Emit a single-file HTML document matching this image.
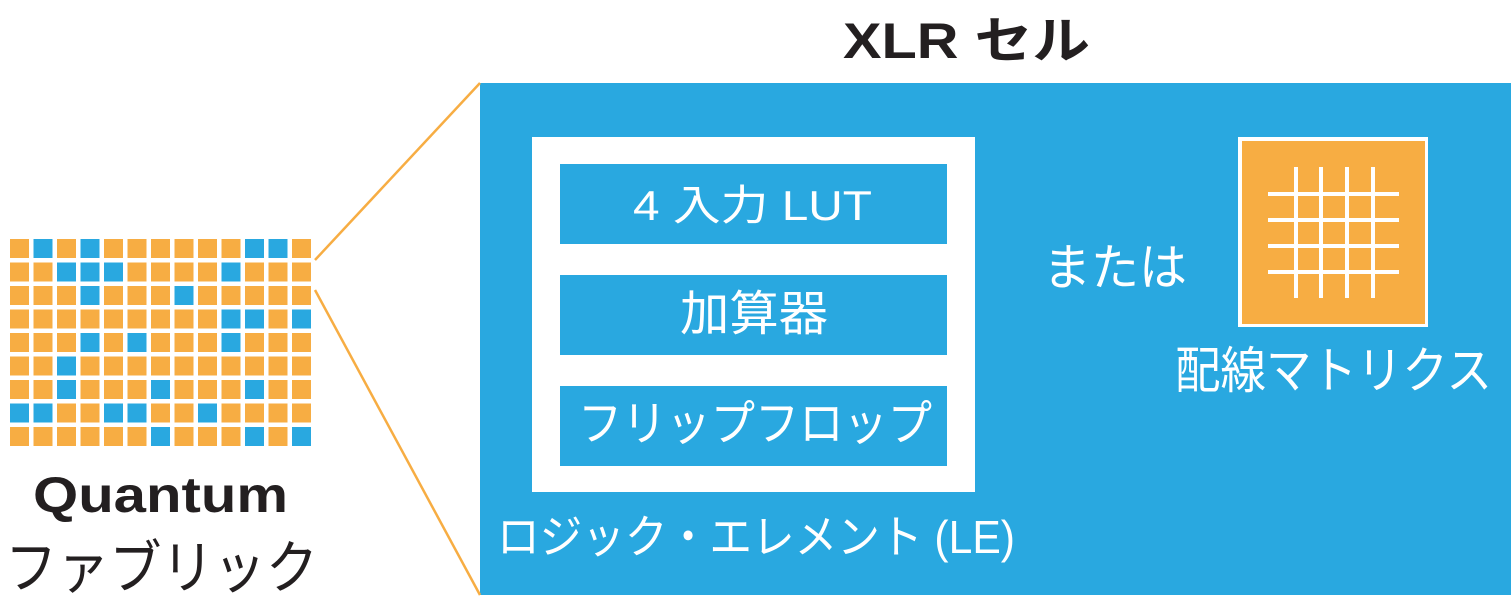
<!DOCTYPE html>
<html><head><meta charset="utf-8"><style>
html,body{margin:0;padding:0;background:#fff;}
svg{display:block;}
text{font-family:"Liberation Sans","Noto Sans CJK JP",sans-serif;}
</style></head><body>
<svg width="1511" height="610" viewBox="0 0 1511 610" xmlns="http://www.w3.org/2000/svg">
<rect x="480" y="83" width="1031" height="512" fill="#29a8e0"/>
<line x1="315" y1="260" x2="480" y2="83" stroke="#f7ad43" stroke-width="2.5"/>
<line x1="315" y1="290" x2="480" y2="595" stroke="#f7ad43" stroke-width="2.5"/>
<g id="grid"></g>
<rect x="532" y="137" width="443" height="355" fill="#fff"/>
<rect x="560" y="164" width="387" height="80" fill="#29a8e0"/>
<rect x="560" y="275" width="387" height="80" fill="#29a8e0"/>
<rect x="560" y="386" width="387" height="80" fill="#29a8e0"/>
<rect x="1238" y="137" width="190" height="190" fill="#fff"/>
<rect x="1242" y="141" width="183" height="183" fill="#f7ad43"/>
<g fill="#fff">
<rect x="1294" y="167" width="4" height="131"/><rect x="1319" y="167" width="4" height="131"/>
<rect x="1345" y="167" width="4" height="131"/><rect x="1371" y="167" width="4" height="131"/>
<rect x="1268" y="192" width="131" height="4"/><rect x="1268" y="218" width="131" height="4"/>
<rect x="1268" y="244" width="131" height="4"/><rect x="1268" y="270" width="131" height="4"/>
</g>
<text x="843" y="58" font-size="50" font-weight="bold" fill="#231f20" textLength="247" lengthAdjust="spacingAndGlyphs">XLR セル</text>
<text x="33" y="512" font-size="50" font-weight="bold" fill="#231f20" textLength="255" lengthAdjust="spacingAndGlyphs">Quantum</text>
<text x="5" y="588" font-size="58" fill="#231f20" textLength="313" lengthAdjust="spacingAndGlyphs">ファブリック</text>
<g fill="#fff">
<text x="633" y="220" font-size="42" textLength="239" lengthAdjust="spacingAndGlyphs">4 入力 LUT</text>
<text x="680" y="330" font-size="48" textLength="148" lengthAdjust="spacingAndGlyphs">加算器</text>
<text x="578" y="440" font-size="48" textLength="354" lengthAdjust="spacingAndGlyphs">フリップフロップ</text>
<text x="1043" y="285" font-size="50" textLength="144" lengthAdjust="spacingAndGlyphs">または</text>
<text x="1175" y="388" font-size="50" textLength="317" lengthAdjust="spacingAndGlyphs">配線マトリクス</text>
<text x="497" y="553" font-size="46" textLength="518" lengthAdjust="spacingAndGlyphs">ロジック・エレメント (LE)</text>
</g>
<g>
<script>
</script>
</g>
<g id="cells">
</g>
<!-- grid cells -->
<g>
<!--rows-->
</g>
<g id="g2">
</g>
<g>
<rect x="10" y="239" width="19" height="19" fill="#f7ad43"/><rect x="33.5" y="239" width="19" height="19" fill="#29a8e0"/><rect x="57" y="239" width="19" height="19" fill="#f7ad43"/><rect x="80.5" y="239" width="19" height="19" fill="#29a8e0"/><rect x="104" y="239" width="19" height="19" fill="#f7ad43"/><rect x="127.5" y="239" width="19" height="19" fill="#f7ad43"/><rect x="151" y="239" width="19" height="19" fill="#f7ad43"/><rect x="174.5" y="239" width="19" height="19" fill="#f7ad43"/><rect x="198" y="239" width="19" height="19" fill="#f7ad43"/><rect x="221.5" y="239" width="19" height="19" fill="#f7ad43"/><rect x="245" y="239" width="19" height="19" fill="#29a8e0"/><rect x="268.5" y="239" width="19" height="19" fill="#29a8e0"/><rect x="292" y="239" width="19" height="19" fill="#f7ad43"/>
<rect x="10" y="262.5" width="19" height="19" fill="#f7ad43"/><rect x="33.5" y="262.5" width="19" height="19" fill="#f7ad43"/><rect x="57" y="262.5" width="19" height="19" fill="#29a8e0"/><rect x="80.5" y="262.5" width="19" height="19" fill="#29a8e0"/><rect x="104" y="262.5" width="19" height="19" fill="#29a8e0"/><rect x="127.5" y="262.5" width="19" height="19" fill="#f7ad43"/><rect x="151" y="262.5" width="19" height="19" fill="#f7ad43"/><rect x="174.5" y="262.5" width="19" height="19" fill="#f7ad43"/><rect x="198" y="262.5" width="19" height="19" fill="#f7ad43"/><rect x="221.5" y="262.5" width="19" height="19" fill="#29a8e0"/><rect x="245" y="262.5" width="19" height="19" fill="#f7ad43"/><rect x="268.5" y="262.5" width="19" height="19" fill="#f7ad43"/><rect x="292" y="262.5" width="19" height="19" fill="#f7ad43"/>
<rect x="10" y="286" width="19" height="19" fill="#f7ad43"/><rect x="33.5" y="286" width="19" height="19" fill="#f7ad43"/><rect x="57" y="286" width="19" height="19" fill="#f7ad43"/><rect x="80.5" y="286" width="19" height="19" fill="#29a8e0"/><rect x="104" y="286" width="19" height="19" fill="#f7ad43"/><rect x="127.5" y="286" width="19" height="19" fill="#f7ad43"/><rect x="151" y="286" width="19" height="19" fill="#f7ad43"/><rect x="174.5" y="286" width="19" height="19" fill="#29a8e0"/><rect x="198" y="286" width="19" height="19" fill="#f7ad43"/><rect x="221.5" y="286" width="19" height="19" fill="#f7ad43"/><rect x="245" y="286" width="19" height="19" fill="#f7ad43"/><rect x="268.5" y="286" width="19" height="19" fill="#f7ad43"/><rect x="292" y="286" width="19" height="19" fill="#f7ad43"/>
<rect x="10" y="309.5" width="19" height="19" fill="#f7ad43"/><rect x="33.5" y="309.5" width="19" height="19" fill="#f7ad43"/><rect x="57" y="309.5" width="19" height="19" fill="#f7ad43"/><rect x="80.5" y="309.5" width="19" height="19" fill="#f7ad43"/><rect x="104" y="309.5" width="19" height="19" fill="#f7ad43"/><rect x="127.5" y="309.5" width="19" height="19" fill="#f7ad43"/><rect x="151" y="309.5" width="19" height="19" fill="#f7ad43"/><rect x="174.5" y="309.5" width="19" height="19" fill="#f7ad43"/><rect x="198" y="309.5" width="19" height="19" fill="#f7ad43"/><rect x="221.5" y="309.5" width="19" height="19" fill="#29a8e0"/><rect x="245" y="309.5" width="19" height="19" fill="#29a8e0"/><rect x="268.5" y="309.5" width="19" height="19" fill="#f7ad43"/><rect x="292" y="309.5" width="19" height="19" fill="#29a8e0"/>
<rect x="10" y="333" width="19" height="19" fill="#f7ad43"/><rect x="33.5" y="333" width="19" height="19" fill="#f7ad43"/><rect x="57" y="333" width="19" height="19" fill="#f7ad43"/><rect x="80.5" y="333" width="19" height="19" fill="#29a8e0"/><rect x="104" y="333" width="19" height="19" fill="#f7ad43"/><rect x="127.5" y="333" width="19" height="19" fill="#29a8e0"/><rect x="151" y="333" width="19" height="19" fill="#f7ad43"/><rect x="174.5" y="333" width="19" height="19" fill="#f7ad43"/><rect x="198" y="333" width="19" height="19" fill="#f7ad43"/><rect x="221.5" y="333" width="19" height="19" fill="#29a8e0"/><rect x="245" y="333" width="19" height="19" fill="#f7ad43"/><rect x="268.5" y="333" width="19" height="19" fill="#f7ad43"/><rect x="292" y="333" width="19" height="19" fill="#f7ad43"/>
<rect x="10" y="356.5" width="19" height="19" fill="#f7ad43"/><rect x="33.5" y="356.5" width="19" height="19" fill="#f7ad43"/><rect x="57" y="356.5" width="19" height="19" fill="#29a8e0"/><rect x="80.5" y="356.5" width="19" height="19" fill="#f7ad43"/><rect x="104" y="356.5" width="19" height="19" fill="#f7ad43"/><rect x="127.5" y="356.5" width="19" height="19" fill="#f7ad43"/><rect x="151" y="356.5" width="19" height="19" fill="#f7ad43"/><rect x="174.5" y="356.5" width="19" height="19" fill="#f7ad43"/><rect x="198" y="356.5" width="19" height="19" fill="#f7ad43"/><rect x="221.5" y="356.5" width="19" height="19" fill="#f7ad43"/><rect x="245" y="356.5" width="19" height="19" fill="#f7ad43"/><rect x="268.5" y="356.5" width="19" height="19" fill="#f7ad43"/><rect x="292" y="356.5" width="19" height="19" fill="#f7ad43"/>
<rect x="10" y="380" width="19" height="19" fill="#f7ad43"/><rect x="33.5" y="380" width="19" height="19" fill="#f7ad43"/><rect x="57" y="380" width="19" height="19" fill="#29a8e0"/><rect x="80.5" y="380" width="19" height="19" fill="#f7ad43"/><rect x="104" y="380" width="19" height="19" fill="#f7ad43"/><rect x="127.5" y="380" width="19" height="19" fill="#f7ad43"/><rect x="151" y="380" width="19" height="19" fill="#29a8e0"/><rect x="174.5" y="380" width="19" height="19" fill="#f7ad43"/><rect x="198" y="380" width="19" height="19" fill="#f7ad43"/><rect x="221.5" y="380" width="19" height="19" fill="#f7ad43"/><rect x="245" y="380" width="19" height="19" fill="#29a8e0"/><rect x="268.5" y="380" width="19" height="19" fill="#f7ad43"/><rect x="292" y="380" width="19" height="19" fill="#f7ad43"/>
<rect x="10" y="403.5" width="19" height="19" fill="#29a8e0"/><rect x="33.5" y="403.5" width="19" height="19" fill="#29a8e0"/><rect x="57" y="403.5" width="19" height="19" fill="#f7ad43"/><rect x="80.5" y="403.5" width="19" height="19" fill="#f7ad43"/><rect x="104" y="403.5" width="19" height="19" fill="#29a8e0"/><rect x="127.5" y="403.5" width="19" height="19" fill="#29a8e0"/><rect x="151" y="403.5" width="19" height="19" fill="#f7ad43"/><rect x="174.5" y="403.5" width="19" height="19" fill="#f7ad43"/><rect x="198" y="403.5" width="19" height="19" fill="#29a8e0"/><rect x="221.5" y="403.5" width="19" height="19" fill="#f7ad43"/><rect x="245" y="403.5" width="19" height="19" fill="#f7ad43"/><rect x="268.5" y="403.5" width="19" height="19" fill="#f7ad43"/><rect x="292" y="403.5" width="19" height="19" fill="#f7ad43"/>
<rect x="10" y="427" width="19" height="19" fill="#f7ad43"/><rect x="33.5" y="427" width="19" height="19" fill="#f7ad43"/><rect x="57" y="427" width="19" height="19" fill="#f7ad43"/><rect x="80.5" y="427" width="19" height="19" fill="#f7ad43"/><rect x="104" y="427" width="19" height="19" fill="#f7ad43"/><rect x="127.5" y="427" width="19" height="19" fill="#f7ad43"/><rect x="151" y="427" width="19" height="19" fill="#29a8e0"/><rect x="174.5" y="427" width="19" height="19" fill="#f7ad43"/><rect x="198" y="427" width="19" height="19" fill="#f7ad43"/><rect x="221.5" y="427" width="19" height="19" fill="#f7ad43"/><rect x="245" y="427" width="19" height="19" fill="#29a8e0"/><rect x="268.5" y="427" width="19" height="19" fill="#f7ad43"/><rect x="292" y="427" width="19" height="19" fill="#29a8e0"/>
</g>
</svg>
</body></html>
